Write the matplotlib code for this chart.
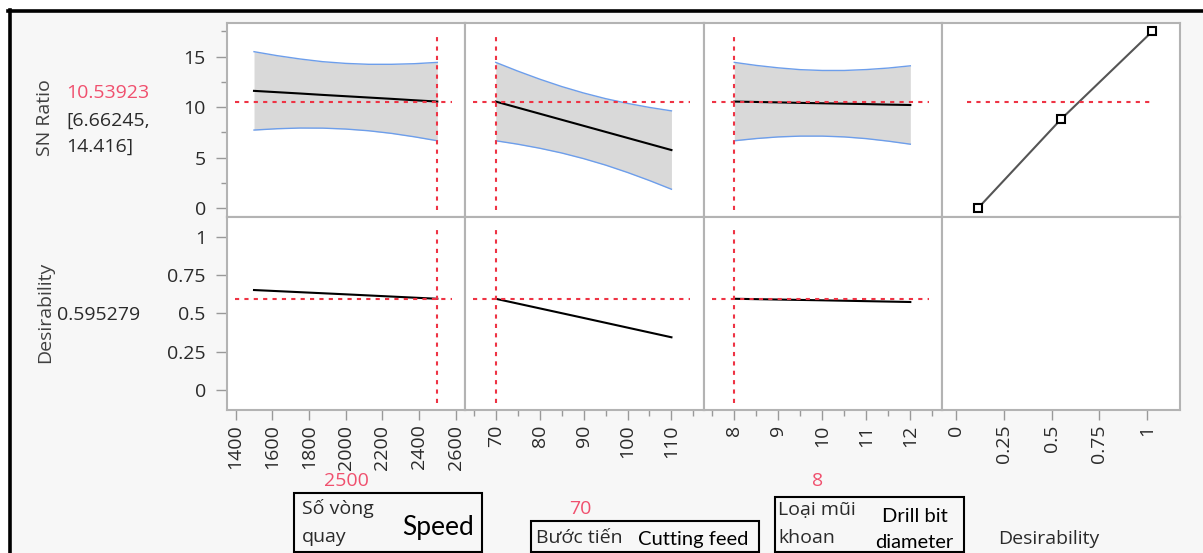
import numpy as np
import matplotlib
matplotlib.use('Agg')
from matplotlib import pyplot as plt
from matplotlib.patches import Rectangle
from matplotlib.lines import Line2D

plt.rcParams['font.family'] = ['Open Sans', 'DejaVu Sans']

# current settings of the profiler
cur_speed = 2500
cur_feed = 70
cur_drill = 8
sn_pred = 10.53923
sn_ci = (6.66245, 14.416)
des_pred = 0.595279

# SN ratio profiles (centre, lower and upper confidence limits)
speed_x = [1500, 1625, 1750, 1875, 2000, 2125, 2250, 2375, 2500]
speed_sn = [11.60, 11.47, 11.34, 11.20, 11.07, 10.94, 10.81, 10.67, 10.54]
speed_lo = [7.72, 7.85, 7.92, 7.91, 7.82, 7.65, 7.39, 7.05, 6.66]
speed_hi = [15.48, 15.09, 14.76, 14.49, 14.32, 14.23, 14.23, 14.29, 14.42]

feed_x = [70, 75, 80, 85, 90, 95, 100, 105, 110]
feed_sn = [10.54, 9.94, 9.34, 8.74, 8.14, 7.54, 6.94, 6.34, 5.74]
feed_lo = [6.66, 6.32, 5.92, 5.45, 4.89, 4.25, 3.52, 2.72, 1.86]
feed_hi = [14.42, 13.56, 12.76, 12.03, 11.39, 10.83, 10.36, 9.96, 9.62]

drill_x = [8, 8.5, 9, 9.5, 10, 10.5, 11, 11.5, 12]
drill_sn = [10.54, 10.50, 10.46, 10.41, 10.37, 10.33, 10.29, 10.24, 10.20]
drill_lo = [6.66, 6.88, 7.04, 7.12, 7.12, 7.04, 6.87, 6.62, 6.32]
drill_hi = [14.42, 14.12, 13.88, 13.70, 13.62, 13.62, 13.71, 13.86, 14.08]

# desirability profiles
speed_dx = [1500, 2000, 2500]
speed_des = [0.652, 0.624, 0.595]
feed_dx = [70, 90, 110]
feed_des = [0.595, 0.47, 0.344]
drill_dx = [8, 10, 12]
drill_des = [0.595, 0.585, 0.574]

# desirability function (desirability vs SN ratio)
dfun_des = [0.114, 0.549, 1.03]
dfun_sn = [0, 8.78, 17.5]

W, H = 1203, 553
RED = '#ee3344'
REDTXT = '#f0506e'
TXT = '#2a2a2a'

def fx(x):
	return x / W

def fy(y):
	return 1 - y / H

fig = plt.figure(figsize=(W/100, H/100), dpi=100)
fig.patch.set_facecolor('white')
# grey background with black frame top/left
fig.add_artist(Rectangle((fx(8), 0), 1, fy(10), transform=fig.transFigure,
	facecolor='#f7f7f7', edgecolor='none', zorder=-5))
fig.add_artist(Line2D([fx(8), 1], [fy(11.3), fy(11.3)], transform=fig.transFigure, color='black', lw=2.6))
fig.add_artist(Line2D([fx(10), fx(10)], [0, fy(10)], transform=fig.transFigure, color='black', lw=2.6))

xcols = [226.7, 465, 703.5, 942, 1180]
yrows = [23, 216.7, 410]

axes = []
for r in range(2):
	row = []
	for c in range(4):
		ax = fig.add_axes([fx(xcols[c]), fy(yrows[r+1]), (xcols[c+1]-xcols[c])/W, (yrows[r+1]-yrows[r])/H])
		for s in ax.spines.values():
			s.set_color('#b3b3b3')
			s.set_linewidth(1.5)
		ax.set_facecolor('white')
		row.append(ax)
	axes.append(row)

xlims = [(1351, 2651), (63, 117.3), (7.3, 12.72), (-0.076, 1.175)]
for r in range(2):
	for c in range(4):
		ax = axes[r][c]
		ax.set_xlim(xlims[c])
		ax.set_ylim((-0.86, 18.32) if r == 0 else (-0.13, 1.13))
		ax.tick_params(axis='both', which='both', color='#999999', labelcolor=TXT, labelsize=14)
		if c > 0:
			ax.tick_params(axis='y', which='both', left=False, labelleft=False)
		if r == 0:
			ax.tick_params(axis='x', which='both', bottom=False, labelbottom=False)

# y axes
a = axes[0][0]
a.set_yticks([0, 5, 10, 15])
a.set_yticks([2.5, 7.5, 12.5, 17.5], minor=True)
a.tick_params(axis='y', which='major', length=8, width=1, pad=7)
a.tick_params(axis='y', which='minor', length=4.5, width=1)
a = axes[1][0]
a.set_yticks([0, 0.25, 0.5, 0.75, 1])
a.set_yticklabels(['0', '0.25', '0.5', '0.75', '1'])
a.tick_params(axis='y', which='major', length=8, width=1, pad=7)

# x axes
xt = [[1400, 1600, 1800, 2000, 2200, 2400, 2600], [70, 80, 90, 100, 110], [8, 9, 10, 11, 12], [0, 0.25, 0.5, 0.75, 1]]
xtl = [None, None, None, ['0', '0.25', '0.5', '0.75', '1']]
xminor = [[], [65, 75, 85, 95, 105, 115], [7.5, 8.5, 9.5, 10.5, 11.5, 12.5], []]
for c in range(4):
	a = axes[1][c]
	a.set_xticks(xt[c])
	if xtl[c]:
		a.set_xticklabels(xtl[c])
	a.set_xticks(xminor[c], minor=True)
	a.tick_params(axis='x', which='major', length=7, width=1, pad=3.5, labelrotation=90)
	a.tick_params(axis='x', which='minor', length=4, width=1)
	for t in a.get_xticklabels():
		t.set_rotation(90)

# SN ratio panels
for c, (x, y, lo, hi) in enumerate([(speed_x, speed_sn, speed_lo, speed_hi),
		(feed_x, feed_sn, feed_lo, feed_hi), (drill_x, drill_sn, drill_lo, drill_hi)]):
	a = axes[0][c]
	a.fill_between(x, lo, hi, color='#d9d9d9', lw=0)
	a.plot(x, lo, color='#6d9eeb', lw=1)
	a.plot(x, hi, color='#6d9eeb', lw=1)
	a.plot(x, y, color='black', lw=1.5)

# desirability panels
for c, (x, y) in enumerate([(speed_dx, speed_des), (feed_dx, feed_des), (drill_dx, drill_des)]):
	axes[1][c].plot(x, y, color='black', lw=1.5)

axes[0][3].plot(dfun_des, dfun_sn, color='#555555', lw=1.5, marker='s', ms=6,
	mfc='white', mec='black', mew=1.5)

# red crosshairs
curs = [cur_speed, cur_feed, cur_drill]
for c in range(3):
	for r, yv in enumerate([sn_pred, des_pred]):
		a = axes[r][c]
		a.axvline(curs[c], ymin=0.035, ymax=0.935, color=RED, lw=1.5, ls=(0, (2, 2.5)))
		a.axhline(yv, xmin=0.035, xmax=0.944, color=RED, lw=1.5, ls=(0, (2, 2.5)))
axes[0][3].axhline(sn_pred, xmin=0.103, xmax=0.886, color=RED, lw=1.5, ls=(0, (2, 2.5)))

# left labels
fig.text(fx(45), fy(118), 'SN Ratio', rotation=90, ha='center', va='center', fontsize=14, color='#404040')
fig.text(fx(66), fy(93), '%.5f' % sn_pred, ha='left', va='center', fontsize=14, color=REDTXT)
fig.text(fx(66), fy(121), '[%.5f,' % sn_ci[0], ha='left', va='center', fontsize=14, color=TXT)
fig.text(fx(66), fy(147), '%.3f]' % sn_ci[1], ha='left', va='center', fontsize=14, color=TXT)
fig.text(fx(45), fy(312), 'Desirability', rotation=90, ha='center', va='center', fontsize=14, color='#404040')
fig.text(fx(57), fy(315), '%.6f' % des_pred, ha='left', va='center', fontsize=14, color=TXT)

# bottom factor labels
fig.text(fx(346), fy(481), str(cur_speed), ha='center', va='center', fontsize=14, color=REDTXT)
fig.text(fx(580), fy(509), str(cur_feed), ha='center', va='center', fontsize=14, color=REDTXT)
fig.text(fx(818), fy(481), str(cur_drill), ha='center', va='center', fontsize=14, color=REDTXT)

for (x0, y0, x1, y1) in [(293.5, 493, 482, 551.5), (531, 520.5, 759, 551.5), (775, 497, 963.5, 551.5)]:
	fig.add_artist(Rectangle((fx(x0), fy(y1)), (x1-x0)/W, (y1-y0)/H, transform=fig.transFigure,
		facecolor='none', edgecolor='black', lw=1.5))

fig.text(fx(302), fy(509), 'Số vòng', ha='left', va='center', fontsize=14, color=TXT)
fig.text(fx(302), fy(537), 'quay', ha='left', va='center', fontsize=14, color=TXT)
fig.text(fx(438), fy(527), 'Speed', ha='center', va='center', fontsize=19, color='black', family=['Lato', 'DejaVu Sans'])
fig.text(fx(536), fy(538), 'Bước tiến', ha='left', va='center', fontsize=14, color=TXT)
fig.text(fx(693), fy(539), 'Cutting feed', ha='center', va='center', fontsize=14.5, color='black', family=['Lato', 'DejaVu Sans'])
fig.text(fx(778), fy(510), 'Loại mũi', ha='left', va='center', fontsize=14, color=TXT)
fig.text(fx(778), fy(538), 'khoan', ha='left', va='center', fontsize=14, color=TXT)
fig.text(fx(915), fy(517), 'Drill bit', ha='center', va='center', fontsize=14.5, color='black', family=['Lato', 'DejaVu Sans'])
fig.text(fx(914), fy(543), 'diameter', ha='center', va='center', fontsize=14.5, color='black', family=['Lato', 'DejaVu Sans'])
fig.text(fx(1049), fy(539), 'Desirability', ha='center', va='center', fontsize=14, color=TXT)

fig.savefig('out.png', dpi=100)
